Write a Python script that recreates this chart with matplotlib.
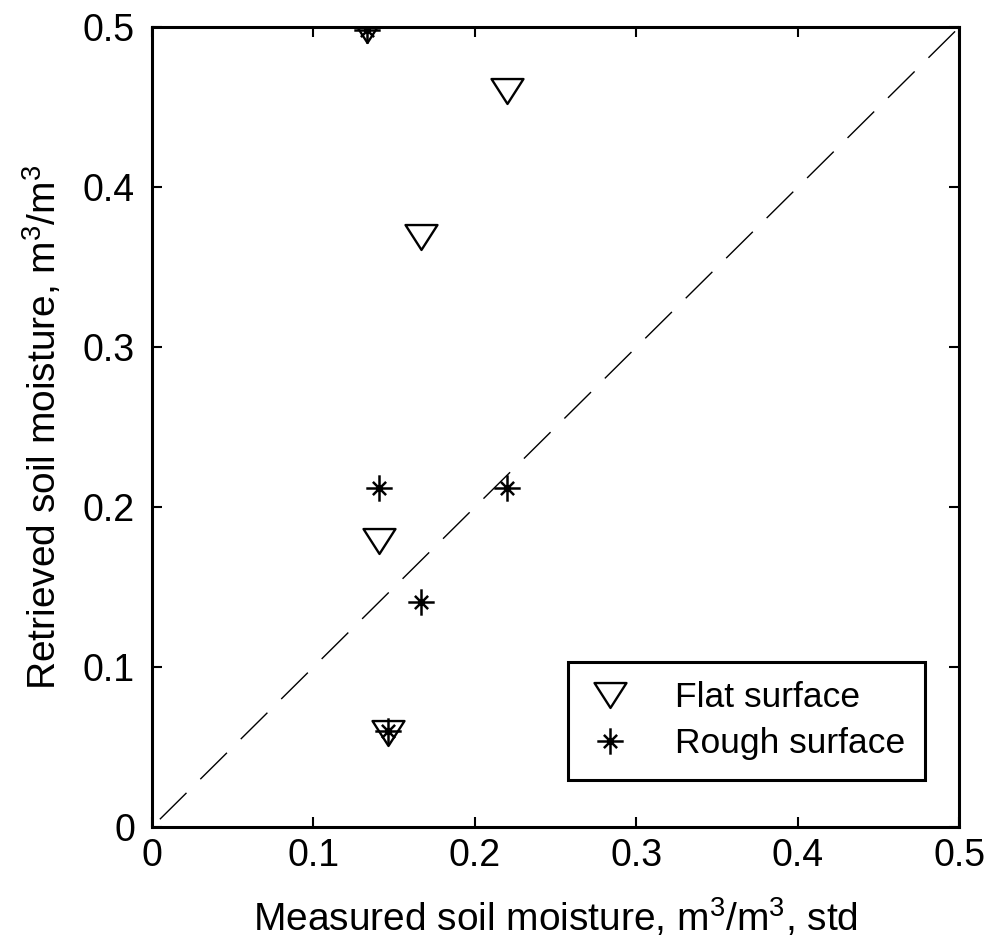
import matplotlib
matplotlib.use("Agg")
from matplotlib import pyplot as plt
from matplotlib.path import Path

plt.rcParams['font.family'] = ['Liberation Sans', 'DejaVu Sans']
plt.rcParams['mathtext.default'] = 'regular'

# measured vs retrieved soil moisture, m3/m3
flat_x = [0.133, 0.220, 0.167, 0.1406, 0.146]
flat_y = [0.498, 0.460, 0.369, 0.179, 0.059]

rough_x = [0.133, 0.1406, 0.220, 0.167, 0.146]
rough_y = [0.498, 0.212, 0.212, 0.1406, 0.060]

line_x = [0.005, 0.5]
line_y = [0.005, 0.5]

ticks = [0, 0.1, 0.2, 0.3, 0.4, 0.5]
tick_labels = ["0", "0.1", "0.2", "0.3", "0.4", "0.5"]

# matlab style markers
tri = Path([(-1, 0.78), (1, 0.78), (0, -0.78), (-1, 0.78)],
           [Path.MOVETO, Path.LINETO, Path.LINETO, Path.CLOSEPOLY])
star = Path([(-1, 0), (1, 0), (0, -1), (0, 1),
             (-0.5, -0.5), (0.5, 0.5), (-0.5, 0.5), (0.5, -0.5)],
            [Path.MOVETO, Path.LINETO] * 4)

fig = plt.figure(figsize=(9.92, 9.39), dpi=100)
ax = fig.add_axes([0.153, 0.119, 0.814, 0.852])

ax.plot(line_x, line_y, color="k", lw=1.0, linestyle=(0, (27, 14)))
ax.plot(flat_x, flat_y, linestyle="none", marker=tri, markersize=23,
        mfc="none", mec="k", mew=1.7, label="Flat surface")
ax.plot(rough_x, rough_y, linestyle="none", marker=star, markersize=19,
        mfc="none", mec="k", mew=1.8, label="Rough surface")

ax.set_xlim(0, 0.5)
ax.set_ylim(0, 0.5)
ax.set_xticks(ticks)
ax.set_xticklabels(tick_labels)
ax.set_yticks(ticks)
ax.set_yticklabels(tick_labels)
ax.tick_params(direction="in", length=7, width=1.5, top=True, right=True,
               labelsize=27)
ax.tick_params(axis="x", pad=8)
ax.tick_params(axis="y", pad=12)
for s in ax.spines.values():
    s.set_linewidth(2.2)

ax.set_xlabel("Measured soil moisture, m$^3$/m$^3$, std", fontsize=28, labelpad=16)
ax.set_ylabel("Retrieved soil moisture, m$^3$/m$^3$", fontsize=28, labelpad=14)

leg = ax.legend(loc="lower right", bbox_to_anchor=(0.958, 0.059), fontsize=25.5,
                fancybox=False, framealpha=1, edgecolor="k", borderaxespad=0,
                handlelength=1.26, handletextpad=1.2, borderpad=0.56,
                labelspacing=0.36)
leg.get_frame().set_linewidth(2.2)

fig.savefig("out.png", dpi=100)
